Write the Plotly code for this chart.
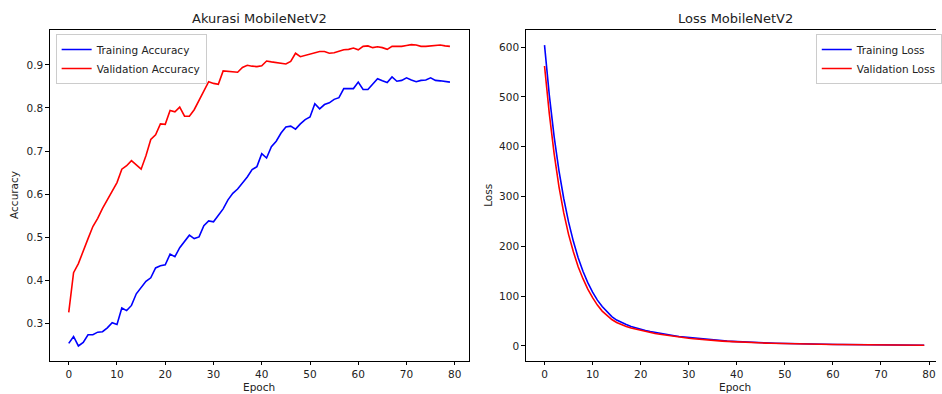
import plotly.graph_objects as go

epochs = list(range(80))

train_acc = [0.254, 0.270, 0.248, 0.256, 0.274, 0.274, 0.280, 0.281, 0.290, 0.302,
             0.298, 0.336, 0.330, 0.342, 0.369, 0.383, 0.398, 0.406, 0.429, 0.434,
             0.436, 0.461, 0.455, 0.476, 0.492, 0.505, 0.497, 0.501, 0.527, 0.538,
             0.536, 0.550, 0.566, 0.587, 0.602, 0.612, 0.626, 0.640, 0.657, 0.664,
             0.694, 0.684, 0.710, 0.723, 0.742, 0.756, 0.758, 0.751, 0.763, 0.773,
             0.779, 0.810, 0.798, 0.808, 0.812, 0.820, 0.824, 0.845, 0.845, 0.845,
             0.860, 0.843, 0.843, 0.855, 0.868, 0.863, 0.859, 0.872, 0.862, 0.864,
             0.870, 0.865, 0.861, 0.864, 0.865, 0.870, 0.864, 0.863, 0.861, 0.860]

val_acc = [0.326, 0.418, 0.439, 0.466, 0.497, 0.525, 0.544, 0.567, 0.588, 0.606,
           0.627, 0.658, 0.666, 0.678, 0.668, 0.658, 0.689, 0.727, 0.738, 0.763,
           0.762, 0.794, 0.791, 0.802, 0.781, 0.781, 0.796, 0.818, 0.841, 0.861,
           0.857, 0.855, 0.886, 0.885, 0.884, 0.883, 0.894, 0.899, 0.897, 0.896,
           0.898, 0.909, 0.907, 0.905, 0.904, 0.902, 0.908, 0.927, 0.919, 0.922,
           0.925, 0.929, 0.931, 0.931, 0.927, 0.928, 0.932, 0.935, 0.936, 0.939,
           0.935, 0.943, 0.944, 0.940, 0.942, 0.940, 0.936, 0.943, 0.943, 0.943,
           0.945, 0.947, 0.946, 0.943, 0.943, 0.944, 0.946, 0.946, 0.944, 0.943]

train_loss = [604, 503, 420, 352, 296, 249, 210, 177, 150, 127,
              108, 92, 79, 68, 59, 52, 47, 43, 39, 36,
              33, 31, 29, 27, 25, 23.5, 22, 20.5, 19, 18,
              16.8, 15.7, 14.7, 13.7, 12.8, 12, 11.2, 10.5, 9.8, 9.2,
              8.6, 8.1, 7.6, 7.2, 6.8, 6.4, 6.1, 5.8, 5.5, 5.2,
              5.0, 4.7, 4.5, 4.3, 4.1, 3.9, 3.7, 3.5, 3.4, 3.2,
              3.1, 2.9, 2.8, 2.7, 2.6, 2.5, 2.4, 2.3, 2.2, 2.1,
              2.0, 1.95, 1.9, 1.85, 1.8, 1.75, 1.7, 1.65, 1.6, 1.55]

val_loss = [562, 466, 386, 320, 267, 224, 189, 159, 135, 114,
            97, 82, 70, 61, 53, 47, 42.5, 39, 36, 33.5,
            31, 29, 27, 25, 23.5, 22, 20.5, 19, 17.8, 16.7,
            15.6, 14.6, 13.6, 12.7, 11.9, 11.1, 10.4, 9.7, 9.1, 8.5,
            8.0, 7.5, 7.1, 6.7, 6.3, 6.0, 5.7, 5.4, 5.1, 4.9,
            4.7, 4.4, 4.2, 4.0, 3.8, 3.6, 3.5, 3.3, 3.2, 3.0,
            2.9, 2.8, 2.7, 2.6, 2.5, 2.4, 2.3, 2.2, 2.1, 2.0,
            1.95, 1.9, 1.85, 1.8, 1.75, 1.7, 1.65, 1.6, 1.55, 1.5]

acc_ticks = [0.3, 0.4, 0.5, 0.6, 0.7, 0.8, 0.9]
loss_ticks = [0, 100, 200, 300, 400, 500, 600]
epoch_ticks = [0, 10, 20, 30, 40, 50, 60, 70, 80]

W, H = 942, 394
FONT = "DejaVu Sans"

fig = go.Figure()
fig.add_trace(go.Scatter(x=epochs, y=train_acc, mode="lines", name="Training Accuracy",
                         line=dict(color="blue", width=1.6), xaxis="x", yaxis="y", legend="legend"))
fig.add_trace(go.Scatter(x=epochs, y=val_acc, mode="lines", name="Validation Accuracy",
                         line=dict(color="red", width=1.6), xaxis="x", yaxis="y", legend="legend"))
fig.add_trace(go.Scatter(x=epochs, y=train_loss, mode="lines", name="Training Loss",
                         line=dict(color="blue", width=1.6), xaxis="x2", yaxis="y2", legend="legend2"))
fig.add_trace(go.Scatter(x=epochs, y=val_loss, mode="lines", name="Validation Loss",
                         line=dict(color="red", width=1.6), xaxis="x2", yaxis="y2", legend="legend2"))

ydom = [(H - 361) / H, (H - 30) / H]
axis_common = dict(showgrid=False, zeroline=False, ticks="outside", ticklen=3.5,
                   tickwidth=0.8, tickcolor="black", linecolor="black", linewidth=0.8,
                   showline=True, tickfont=dict(family=FONT, size=10.5, color="#222222"))

legend_common = dict(xanchor="left", yanchor="top",
                     bgcolor="rgba(255,255,255,0.8)", bordercolor="#cccccc", borderwidth=1,
                     font=dict(family=FONT, size=10.5, color="#222222"), itemwidth=30,
                     tracegroupgap=0)

fig.update_layout(
    width=W, height=H,
    margin=dict(l=0, r=0, t=0, b=0),
    paper_bgcolor="white", plot_bgcolor="white",
    font=dict(family=FONT, size=10, color="black"),
    xaxis=dict(domain=[50 / W, 472 / W], range=[-3.95, 82.95], tickvals=epoch_ticks,
               mirror=True, anchor="y", **axis_common),
    yaxis=dict(domain=ydom, range=[0.2131, 0.9809], tickvals=acc_ticks,
               ticktext=[f"{v:.1f}" for v in acc_ticks], mirror=True, anchor="x", **axis_common),
    xaxis2=dict(domain=[529 / W, 1.0], range=[-3.93, 81.45], tickvals=epoch_ticks,
                mirror=True, anchor="y2", **axis_common),
    yaxis2=dict(domain=ydom, range=[-30.2, 634.2], tickvals=loss_ticks, mirror=False,
                anchor="x2", **axis_common),
    legend=dict(x=56 / W, y=(H - 34) / H, **legend_common),
    legend2=dict(x=821 / W, y=(H - 34) / H, **legend_common),
    showlegend=True,
)

annos = [
    dict(text="Akurasi MobileNetV2", x=261 / W, y=(H - 19) / H, size=13, angle=0),
    dict(text="Loss MobileNetV2", x=740 / W, y=(H - 19) / H, size=13, angle=0),
    dict(text="Epoch", x=261 / W, y=(H - 387) / H, size=10.5, angle=0),
    dict(text="Epoch", x=740 / W, y=(H - 387) / H, size=10.5, angle=0),
    dict(text="Accuracy", x=14 / W, y=(H - 195) / H, size=10.5, angle=-90),
    dict(text="Loss", x=491 / W, y=(H - 195) / H, size=10.5, angle=-90),
]
for a in annos:
    fig.add_annotation(text=a["text"], x=a["x"], y=a["y"], xref="paper", yref="paper",
                       xanchor="center", yanchor="middle", showarrow=False,
                       textangle=a["angle"], font=dict(family=FONT, size=a["size"], color="#222222"))

fig.write_html("out.html", config={"displayModeBar": False},
               post_script="document.body.style.margin='0';document.body.style.overflow='hidden';")
